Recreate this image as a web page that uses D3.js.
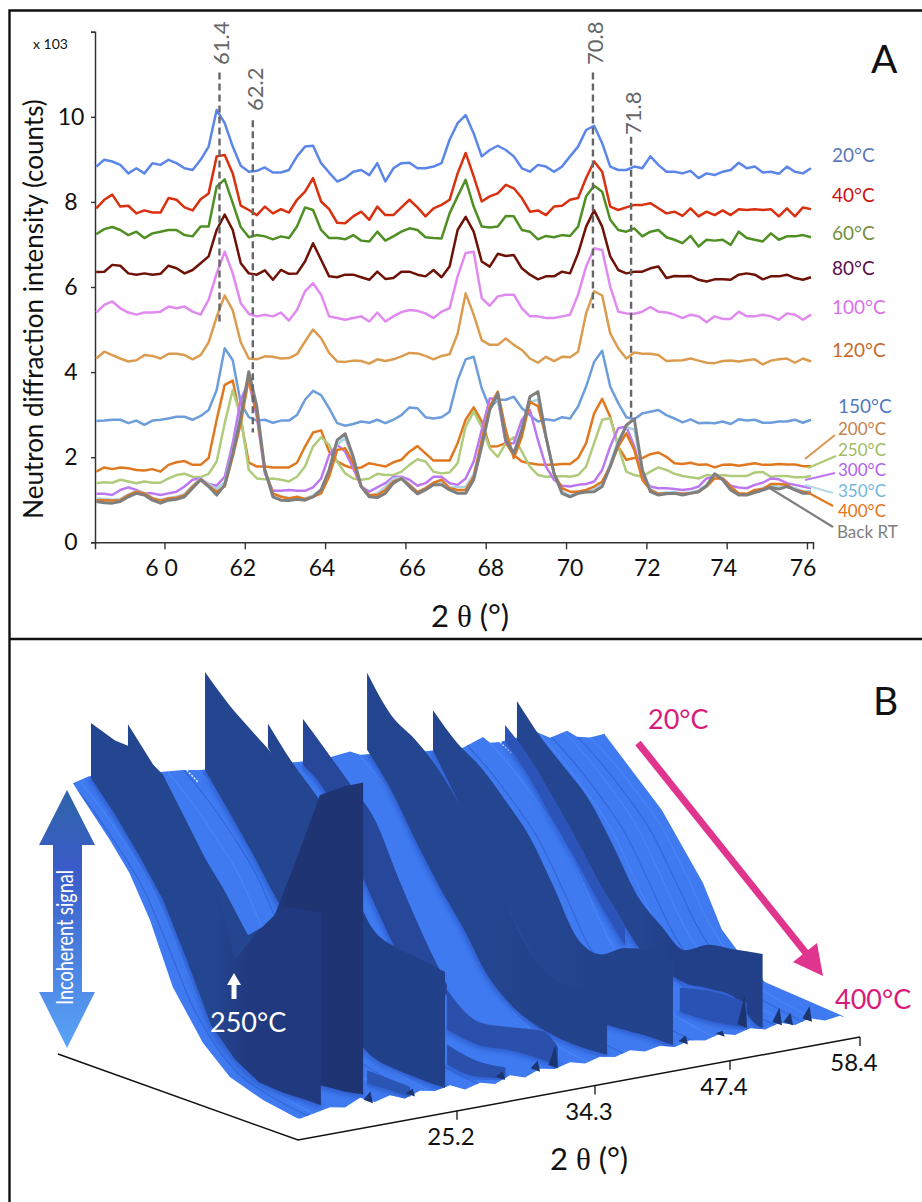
<!DOCTYPE html>
<html>
<head>
<meta charset="utf-8">
<script src="https://cdn.jsdelivr.net/npm/d3@7"></script>
<style>
body { margin: 0; background: #fff; }
svg { display: block; }
text { font-family: Lato, "Open Sans", sans-serif; }
</style>
</head>
<body>
<script>
// panel A: 90 scans on a 0.2 degree grid
const thetaGrid = d3.range(90).map(function(i) { return 58.3 + i * 0.2; });
const xTicks = [60, 62, 64, 66, 68, 70, 72, 74, 76];
const xTickLabels = ['6 0', '62', '64', '66', '68', '70', '72', '74', '76'];
const xTickNudge = [-3, -2, -3, 7, 5, 4, 1, -3, -4];
const yTicks = [0, 2, 4, 6, 8, 10, 12];

const scan20 = [8.83,8.99,8.95,8.87,8.67,8.79,8.67,8.91,8.87,8.99, 8.91,8.79,8.75,8.99,9.3,10.16,9.85,9.3,8.85,8.71, 8.73,8.81,8.69,8.69,8.75,9.07,9.3,9.32,8.91,8.69, 8.48,8.56,8.71,8.75,8.63,8.91,8.48,8.79,8.91,8.92, 8.79,8.79,8.83,8.91,9.46,9.85, 10.04,9.61,9.07,9.22,9.32,9.22,9.07,8.79,8.71,8.87, 8.83,8.71,8.83,9.07,9.3,9.69,9.79,9.38,8.83,8.75, 8.75,8.83,8.79,9.07,8.87,8.71,8.71,8.67,8.73,8.56, 8.67,8.63,8.71,8.75,8.92,8.79,8.83,8.69,8.71,8.66, 8.83,8.71,8.67,8.79];
const scan40 = [7.85,8.05,8.17,7.89,7.91,7.73,7.8,7.75,7.75,8.09, 8.05,7.87,7.8,8.06,8.2,9.07,9.1,8.67,7.91,7.81, 7.69,7.89,7.73,7.83,7.75,8.05,8.24,8.56,8.01,7.83, 7.51,7.5,7.66,7.77,7.58,7.89,7.69,7.69,7.87,8.05, 7.87,7.66,7.85,7.93,8.05,8.67, 9.15,8.6,8.01,8.13,8.2,8.4,8.32,8.09,7.77,7.8, 7.69,7.89,7.91,8.05,8.09,8.56,8.95,8.71,7.89,7.81, 7.87,7.93,7.93,7.97,7.85,7.73,7.77,7.67,7.85,7.66, 7.77,7.69,7.8,7.69,7.83,7.81,7.83,7.81,7.83,7.66, 7.85,7.66,7.87,7.83];
const scan60 = [7.24,7.36,7.41,7.34,7.22,7.3,7.15,7.26,7.3,7.34, 7.34,7.22,7.19,7.42,7.42,8.36,8.53,7.97,7.41,7.17, 7.22,7.19,7.12,7.19,7.15,7.42,7.87,7.81,7.34,7.15, 7.15,7.12,7.22,7.09,7.07,7.3,7.09,7.19,7.3,7.38, 7.34,7.17,7.15,7.14,7.73,8.13, 8.52,7.89,7.42,7.4,7.42,7.67,7.66,7.34,7.3,7.12, 7.2,7.17,7.22,7.2,7.42,8.13,8.38,8.24,7.58,7.34, 7.3,7.38,7.19,7.3,7.34,7.17,7.11,7.03,7.2,6.95, 7.11,7.09,7.11,6.99,7.3,7.15,7.11,7.07,7.26,7.11, 7.19,7.19,7.22,7.17];
const scan80 = [6.35,6.36,6.52,6.5,6.32,6.29,6.32,6.29,6.31,6.5, 6.44,6.32,6.4,6.56,6.72,7.34,7.7,7.34,6.56,6.32, 6.29,6.39,6.17,6.4,6.31,6.32,6.6,7.03,6.64,6.25, 6.23,6.29,6.29,6.23,6.17,6.36,6.19,6.21,6.36,6.36, 6.29,6.25,6.4,6.23,6.48,7.34, 7.65,7.3,6.6,6.48,6.78,6.73,6.75,6.44,6.29,6.18, 6.25,6.25,6.36,6.32,6.79,7.42,7.8,7.42,6.72,6.4, 6.32,6.36,6.36,6.44,6.48,6.21,6.26,6.25,6.26,6.17, 6.13,6.18,6.18,6.17,6.29,6.32,6.29,6.18,6.25,6.25, 6.29,6.21,6.17,6.23];
const scan100 = [5.4,5.58,5.66,5.5,5.4,5.35,5.4,5.4,5.42,5.54, 5.5,5.54,5.42,5.35,5.7,6.32,6.83,6.32,5.62,5.37, 5.31,5.35,5.31,5.4,5.21,5.46,5.9,6.09,5.82,5.31, 5.27,5.23,5.27,5.31,5.19,5.4,5.19,5.31,5.41,5.46, 5.44,5.38,5.27,5.42,5.5,6.25, 6.8,6.83,5.74,5.56,5.78,5.82,5.82,5.5,5.31,5.31, 5.27,5.27,5.31,5.35,5.82,6.48,6.91,6.87,6.01,5.42, 5.38,5.37,5.42,5.53,5.42,5.4,5.35,5.27,5.35,5.31, 5.17,5.31,5.25,5.25,5.42,5.31,5.31,5.35,5.31,5.23, 5.38,5.35,5.23,5.35];
const scan120 = [4.32,4.48,4.4,4.32,4.25,4.28,4.4,4.38,4.32,4.43, 4.43,4.4,4.3,4.4,4.7,5.3,5.8,5.45,4.7,4.32, 4.3,4.37,4.36,4.32,4.33,4.42,4.72,5.0,4.8,4.45, 4.25,4.24,4.27,4.26,4.2,4.3,4.26,4.3,4.37,4.45, 4.44,4.38,4.3,4.38,4.42,4.9, 5.85,5.35,4.75,4.64,4.64,4.79,4.64,4.52,4.32,4.22, 4.36,4.26,4.36,4.35,4.48,5.38,5.9,5.8,4.91,4.56, 4.32,4.46,4.43,4.43,4.4,4.26,4.27,4.28,4.32,4.27, 4.22,4.21,4.26,4.27,4.25,4.28,4.3,4.18,4.27,4.3, 4.32,4.22,4.32,4.25];
const scan150 = [2.85,2.86,2.88,2.88,2.8,2.86,2.76,2.86,2.88,2.91, 2.95,2.95,2.88,2.97,3.11,3.58,4.56,4.28,3.27,2.94, 2.86,2.88,2.81,2.86,2.86,2.99,3.35,3.56,3.46,3.15, 2.8,2.74,2.78,2.84,2.81,2.88,2.8,2.88,2.99,3.17, 3.15,2.94,2.91,2.94,3.07,3.81, 4.3,4.36,3.62,3.15,3.35,3.35,3.42,3.15,2.99,2.84, 2.89,2.86,2.94,2.91,3.19,3.66,4.24,4.5,3.66,3.27, 2.94,2.89,3.03,3.07,3.11,2.99,2.91,2.82,2.89,2.8, 2.81,2.8,2.84,2.78,2.89,2.86,2.88,2.81,2.81,2.84, 2.84,2.88,2.81,2.88];
const scan200 = [1.66,1.76,1.72,1.76,1.74,1.7,1.69,1.72,1.66,1.82, 1.88,1.91,1.82,1.82,1.98,2.88,3.7,3.8,2.88,1.87, 1.78,1.78,1.76,1.76,1.76,1.87,2.25,2.58,2.63,2.13, 1.9,1.8,1.74,1.76,1.86,1.82,1.78,1.88,1.94,2.13, 2.26,2.09,1.92,1.92,1.92,2.33, 2.88,3.17,2.84,2.25,2.26,2.33,2.05,1.9,1.86,1.83, 1.82,1.82,1.84,1.84,1.98,2.33,3.03,3.37,2.95,2.25, 1.94,1.98,1.98,2.07,2.11,2.01,1.86,1.84,1.87,1.82, 1.83,1.76,1.82,1.83,1.8,1.83,1.86,1.82,1.82,1.84, 1.83,1.83,1.79,1.79];
const scan250 = [1.39,1.41,1.4,1.47,1.43,1.39,1.43,1.4,1.4,1.5, 1.58,1.61,1.54,1.53,1.61,1.9,2.8,3.58,2.95,1.7, 1.5,1.48,1.5,1.47,1.43,1.54,1.78,2.25,2.47,2.29, 1.9,1.62,1.5,1.47,1.5,1.61,1.58,1.58,1.66,1.82, 1.95,1.9,1.66,1.62,1.64,1.86, 2.72,3.07,2.72,2.21,2.01,2.33,2.47,2.13,1.78,1.58, 1.54,1.54,1.56,1.54,1.58,1.78,2.33,2.88,2.92,2.25, 1.66,1.58,1.54,1.66,1.76,1.7,1.61,1.56,1.53,1.5, 1.58,1.56,1.58,1.56,1.56,1.56,1.64,1.65,1.54,1.56, 1.56,1.53,1.53,1.56];
const scan300 = [1.14,1.14,1.11,1.23,1.29,1.23,1.15,1.15,1.11,1.15, 1.19,1.31,1.47,1.5,1.37,1.33,1.54,2.33,3.35,3.78, 2.95,1.62,1.21,1.21,1.23,1.21,1.21,1.29,1.5,2.05, 2.29,2.13,1.74,1.31,1.19,1.29,1.39,1.54,1.54,1.47, 1.33,1.39,1.54,1.54,1.39,1.35, 1.5,1.9,2.64,3.38,3.38,2.33,2.33,2.88,3.11,2.4, 1.78,1.47,1.33,1.31,1.35,1.37,1.43,1.7,2.25,2.68, 2.72,2.25,1.54,1.31,1.27,1.27,1.25,1.23,1.25,1.31, 1.5,1.54,1.5,1.33,1.29,1.27,1.35,1.4,1.5,1.48, 1.39,1.35,1.31,1.27];
const scan350 = [1.03,1.02,1.0,1.02,1.12,1.2,1.16,1.05,1.0,1.04, 1.07,1.13,1.33,1.5,1.36,1.25,1.42,2.15,3.0,3.9, 3.1,1.7,1.13,1.08,1.04,1.05,1.03,1.1,1.25,1.7, 2.3,2.45,1.95,1.3,1.1,1.15,1.3,1.5,1.52,1.37, 1.18,1.28,1.4,1.42,1.28,1.3, 1.3,1.6,2.35,3.2,3.4,2.45,2.1,2.7,3.3,3.35, 2.45,1.62,1.2,1.1,1.2,1.22,1.25,1.38,1.85,2.4, 2.7,2.65,1.7,1.25,1.15,1.17,1.18,1.15,1.17,1.22, 1.35,1.55,1.48,1.28,1.14,1.13,1.2,1.28,1.33,1.3, 1.33,1.27,1.2,1.2];
const scan400 = [0.99,0.99,0.98,0.99,1.11,1.19,1.15,1.03,0.98,1.03, 1.05,1.11,1.31,1.48,1.33,1.19,1.31,2.01,2.8,3.85, 3.03,1.7,1.15,1.07,1.03,1.07,1.02,1.07,1.15,1.54, 2.17,2.21,1.86,1.31,1.11,1.11,1.23,1.43,1.5,1.35, 1.18,1.27,1.4,1.47,1.27,1.23, 1.23,1.54,2.4,3.19,3.54,2.64,1.98,2.48,3.3,3.2, 2.48,1.62,1.27,1.19,1.19,1.23,1.31,1.43,1.78,2.25, 2.56,2.17,1.47,1.23,1.14,1.15,1.15,1.14,1.15,1.18, 1.31,1.5,1.5,1.31,1.15,1.14,1.23,1.25,1.37,1.37, 1.35,1.23,1.19,1.15];
const scanBack = [0.96,0.93,0.92,0.96,1.07,1.15,1.11,0.99,0.92,0.99, 1.01,1.07,1.27,1.47,1.31,1.11,1.35,2.09,2.95,4.01, 3.19,1.7,1.07,0.99,0.98,1.01,0.99,1.07,1.23,1.7, 2.4,2.55,2.01,1.31,1.07,1.05,1.15,1.39,1.5,1.31, 1.14,1.23,1.35,1.35,1.23,1.15, 1.15,1.47,2.25,3.11,3.5,2.4,2.09,2.64,3.42,3.54, 2.48,1.62,1.15,1.07,1.15,1.18,1.19,1.31,1.78,2.33, 2.75,2.9,1.7,1.19,1.11,1.14,1.15,1.11,1.15,1.19, 1.33,1.61,1.47,1.23,1.11,1.11,1.17,1.23,1.29,1.25, 1.31,1.23,1.15,1.15];

const seriesNames = ['20°C', '40°C', '60°C', '80°C', '100°C', '120°C', '150°C', '200°C', '250°C', '300°C', '350°C', '400°C', 'Back RT'];
const seriesValues = [scan20, scan40, scan60, scan80, scan100, scan120, scan150, scan200, scan250, scan300, scan350, scan400, scanBack];
const seriesColors = ['#5b86e8', '#d9300f', '#4f8f23', '#6e1208', '#e08af0', '#db9c50', '#6d9ddb', '#e07820', '#b0cb7c', '#bd78f0', '#a8d2e5', '#e07820', '#7f7f7f'];
const labelColors = ['#5b78b8', '#d01010', '#758f3c', '#5a0f4a', '#da70e8', '#c56a2a', '#4f79c4', '#c4814a', '#a0bb60', '#b060f0', '#6fb6dc', '#e8711a', '#7f7f7f'];
const labelX = [832, 832, 832, 832, 832, 832, 838, 838, 838, 838, 838, 838, 837];
const labelY = [162, 202, 240, 275, 314, 357, 413, 435, 455.5, 476, 496.5, 517, 537.5];
const labelSize = [19, 19, 19, 19, 19, 19, 19, 17, 17, 17, 17, 17, 17];
// leader ticks from the crowded labels back to their line ends
const leaders = [
	{ c: '#d99a55', p: [[805, 459], [835, 435]] },
	{ c: '#aecb72', p: [[808, 468], [836, 456]] },
	{ c: '#bd78f0', p: [[805, 480], [835, 473]] },
	{ c: '#b5d9e8', p: [[805, 485], [833, 493]] },
	{ c: '#e07820', p: [[807, 492], [833, 506]] },
	{ c: '#7f7f7f', p: [[768, 487], [833, 527]] }
];

const peakThetas = [61.37, 62.2, 70.67, 71.62];
const peakLabels = ['61.4', '62.2', '70.8', '71.8'];
const peakTops = [11.04, 9.92, 11.04, 9.53];
const peakBottoms = [5.1, 2.58, 5.5, 2.94];
const peakLabelAnchor = [[229, 65], [263, 111], [603, 65], [641, 135]];

// panel B: a waterfall of the low angle range, heights in arbitrary signal units
const sweepTemps = [20, 58, 96, 134, 172, 210, 248, 286, 324, 362, 400];
const axisThetas = [25.2, 34.3, 47.4, 58.4];
const rearThetas = [15.69,16.75,21.64,22.96,24.08,30.68,32.65,33.97,34.79,40.61,44.78,46.72,47.4,48.25,51.38,52.48,53.92,54.77,55.86,57.13];
const rearSignal = [268,272,263,261,258,248,247,249,244,236,232,239,232,231,234,226,230,222,219,220];
const fallTemps = [20, 40.5, 99, 130, 162.5, 198.6, 246.5, 289, 341.5, 400];
const fallShare = [1, .965, .812, .72, .58, .375, .218, .132, .093, .075];
const leftTemps = [40.5, 99, 130, 162.5, 198.6, 246.5, 289, 341.5, 395];
const leftSignal = [275, 231.5, 205.6, 166, 107, 62, 37.5, 26.4, 20.5];
const rightTemps = [20, 110, 175, 205, 229, 273, 395, 400];
const rightSignal = [219, 164, 106, 66, 51, 29, 23, 22];
const frontSignal = [21,24,27,24,31,24,28,22,27,24,27,20,24,20,26,21,27,24,28,24,28,25,29,25,28,24,28,25,29,25,29,25,29,24,28,23,25];

// ridges back to front, right to left
const ridgeThetas = [49.68, 48.84, 48.67, 41.87, 35.47, 31.86, 30.87, 28.7, 28.56, 24.41, 22.43, 19.32, 16.88];
const ridgeTemps = [
	[20,58,96,134,172,210,248,286,324,362,400,409],
	[293.6,336.5,400],
	[20,58,96,134,172,210],
	sweepTemps,
	sweepTemps,
	[224,276.5,324,376,400],
	[20,58,96,134,172,210,248],
	[300.2,346,392.4],
	[20,58,96,134],
	sweepTemps,
	[324,392.4],
	[20,58,96,134,172,210,248,286,324,362,392.4],
	[20,58,96,134,172,210,248,286,324,362,384]
];
const ridgeTops = [
	[269,241,219,196,159,118,96,80,94,98,103,104],
	[46,53,55],
	[247,224,192,158,121,90],
	[275,251,235,211,184,143,99,91,106,113,111],
	[324.5,291,275,253,220,177.5,134,98,84,85,88.5],
	[63,42,48,56,45],
	[290,266,241,215,164,117,76],
	[34,28.5,32],
	[292,262,238,211],
	[355,331,312,293,267,240,199,158,148,145,141],
	[31,30],
	[317,287,248,217,186,149,171,241,315,332,343],
	[325,316,315,299,260,221,140,178,210,215,217]
];
const ridgeFeet = [
	[230,194,160,128,99,68,54,47,50,51,31,30],
	[22,23,30],
	[231,204,169,136,101,70],
	[235,194,148,108,70,38,27,23,24,26,26],
	[247.5,216,175,137,104,65.5,44,33,28,27,28.5],
	[23,19,25,27,27],
	[244,223,176,130,89,67,66],
	[14,12.5,21],
	[268,234,203,171],
	[257,224,190,153,122,80,49,30,26,25,25],
	[18,20],
	[264,240,198,167,126,84,53,31,25,27,31],
	[270,242,210,174,122,66,40,26,24,25,25]
];
const ridgeBack = ['#24458f','#2a52b4','#2b53b8','#24458f','#24458f','#2a50ac','#26479a','#2a50ac','#24458f','#24458f','#2b55b5','#24458f','#24458f'];
const ridgeFront = ['#22408a','#2a52b4','#2b53b8','#23428c','#23428c','#2a50ac','#26479a','#2a50ac','#24458f','#21408a','#2b55b5','#1f3573','#21397f'];
// the two front ridges break sharply at the transition, so no smoothing there
const ridgeCurves = [d3.curveMonotoneX, d3.curveMonotoneX, d3.curveMonotoneX, d3.curveMonotoneX, d3.curveMonotoneX, d3.curveMonotoneX, d3.curveMonotoneX, d3.curveMonotoneX, d3.curveMonotoneX, d3.curveMonotoneX, d3.curveMonotoneX, d3.curveLinear, d3.curveLinear];

const spikeThetas = [19.65, 22.43, 28.37, 30.68, 31.86, 43.33, 46.9, 48.84, 51.8, 52.73, 54.34];
const spikeTops = [34, 29, 30, 34, 47, 32, 30, 61, 43, 36, 39];
const spikeFeet = [23, 22, 22, 24, 24, 24, 25, 30, 26, 24, 24];

// pale and shaded stripes running along the temperature direction
const streakThetas = [15.6,16.1,21.9,23,24,25.2,27,34.6,36.6,38.4,43.7,45.2,47.3,50.4,51.5,52.6,53.7,54.8,55.9];
const streakColors = ['#3267d8','#4a86f8','#4a86f8','#3267d8','#4a86f8','#4a86f8','#3267d8','#4a86f8','#4a86f8','#3267d8','#4a86f8','#3267d8','#4a86f8','#3267d8','#4a86f8','#3267d8','#4a86f8','#3267d8','#4a86f8'];
const glintThetas = [23.2, 48.25];

const width = 922, height = 1202;
const svg = d3.select('body').append('svg').attr('width', width).attr('height', height);

// frame
svg.append('path')
	.attr('d', 'M922,10.5H9.5V1202M9.5,639H922')
	.attr('fill', 'none').attr('stroke', '#111').attr('stroke-width', 2.4);

// panel A
const x = d3.scaleLinear().domain([58.27, 76.15]).range([95, 813]);
const y = d3.scaleLinear().domain([0, 12]).range([542.3, 31.7]);
const scanLine = d3.line()
	.x(function(d, i) { return x(thetaGrid[i]); })
	.y(function(d) { return y(d); });

const xAxis = svg.append('g')
	.attr('transform', 'translate(0,' + y(0) + ')')
	.call(d3.axisBottom(x).tickValues(xTicks).tickSize(7).tickFormat(''));
const yAxis = svg.append('g')
	.attr('transform', 'translate(' + x.range()[0] + ',0)')
	.call(d3.axisLeft(y).tickValues(yTicks).tickSize(4).tickFormat(''));
[xAxis, yAxis].forEach(function(g) {
	g.selectAll('path').attr('stroke', '#333').attr('stroke-width', 1.5);
	g.selectAll('line').attr('stroke', '#333').attr('stroke-width', 1.4);
});

svg.selectAll('.xlab').data(xTicks).enter().append('text')
	.attr('x', function(d, i) { return x(d) + xTickNudge[i]; })
	.attr('y', 576)
	.attr('text-anchor', 'middle').attr('font-size', 23).attr('fill', '#111')
	.text(function(d, i) { return xTickLabels[i]; });
svg.selectAll('.ylab').data(yTicks.slice(0, 6)).enter().append('text')
	.attr('x', 71)
	.attr('y', function(d) { return y(d) + 8; })
	.attr('text-anchor', 'middle').attr('font-size', 23).attr('fill', '#111')
	.text(function(d) { return d; });
svg.append('text').attr('x', 33).attr('y', 49).attr('font-size', 14).attr('fill', '#111').text('x 103');
svg.append('text')
	.attr('transform', 'translate(43,309) rotate(-90)')
	.attr('text-anchor', 'middle').attr('font-size', 26).attr('fill', '#111')
	.text('Neutron diffraction intensity (counts)');

function thetaTitle(px, py) {
	const t = svg.append('text').attr('x', px).attr('y', py).attr('font-size', 31).attr('fill', '#111');
	t.append('tspan').text('2 ');
	t.append('tspan').attr('font-family', '"Liberation Serif"').text('θ');
	t.append('tspan').text(' (°)');
}
thetaTitle(431, 627);

svg.selectAll('.scan').data(seriesValues).enter().append('path')
	.attr('d', scanLine)
	.attr('fill', 'none')
	.attr('stroke', function(d, i) { return seriesColors[i]; })
	.attr('stroke-width', function(d, i) { return i === 12 ? 3 : 2.5; })
	.attr('stroke-linejoin', 'round');

svg.selectAll('.peak').data(peakThetas).enter().append('line')
	.attr('x1', function(d) { return x(d); })
	.attr('x2', function(d) { return x(d); })
	.attr('y1', function(d, i) { return y(peakTops[i]); })
	.attr('y2', function(d, i) { return y(peakBottoms[i]); })
	.attr('stroke', '#666').attr('stroke-width', 2.4).attr('stroke-dasharray', '7,4');
svg.selectAll('.peaklab').data(peakLabels).enter().append('text')
	.attr('transform', function(d, i) { return 'translate(' + peakLabelAnchor[i] + ') rotate(-90)'; })
	.attr('font-size', 22).attr('fill', '#666')
	.text(function(d) { return d; });

svg.selectAll('.leader').data(leaders).enter().append('path')
	.attr('d', function(d) { return d3.line()(d.p); })
	.attr('fill', 'none').attr('stroke-width', 2.2)
	.attr('stroke', function(d) { return d.c; });
svg.selectAll('.slab').data(seriesNames).enter().append('text')
	.attr('x', function(d, i) { return labelX[i]; })
	.attr('y', function(d, i) { return labelY[i]; })
	.attr('font-size', function(d, i) { return labelSize[i]; })
	.attr('fill', function(d, i) { return labelColors[i]; })
	.text(function(d) { return d; });
svg.append('text').attr('x', 871).attr('y', 73).attr('font-size', 39).attr('fill', '#111').text('A');
svg.append('text').attr('x', 873).attr('y', 715).attr('font-size', 39).attr('fill', '#111').text('B');

// panel B
const thetaB = d3.scaleLinear().domain([14.7, 25.2, 34.3, 47.4, 58.4]).range([298, 457, 595, 730, 860]);
const groundY = d3.scaleLinear().domain([298, 860]).range([1140, 1037]);
const depthX = d3.scaleLinear().domain([20, 400]).range([-240, 0]);
const depthY = d3.scaleLinear().domain([20, 400]).range([-86, 0]);
const rearLevel = d3.scaleLinear().domain(rearThetas).range(rearSignal);
const fall = d3.scaleLinear().domain(fallTemps).range(fallShare);
const floorSignal = function(th, temp) { return rearLevel(th) * fall(temp); };

const project = function(th, temp, z) {
	const px = thetaB(th);
	return [px + depthX(temp), groundY(px) + depthY(temp) - z];
};
const outline = d3.line();
const defs = svg.append('defs');
defs.append('filter').attr('id', 'soft').append('feGaussianBlur').attr('stdDeviation', 2);

// floor of the surface
const frontThetas = frontSignal.map(function(d, i) { return thetaB.invert(300 + i * 15); });
let floorPts = [];
rearThetas.slice(1).forEach(function(th, i) { floorPts.push(project(th, 20, rearSignal[i + 1])); });
rightTemps.forEach(function(temp, i) { floorPts.push(project(57.13, temp, rightSignal[i])); });
frontThetas.slice().reverse().forEach(function(th, i) {
	floorPts.push(project(th, 400, frontSignal[frontSignal.length - 1 - i]));
});
leftTemps.slice().reverse().forEach(function(temp, i) {
	floorPts.push(project(14.83, temp, leftSignal[leftSignal.length - 1 - i]));
});
svg.append('clipPath').attr('id', 'floorClip').append('path').attr('d', outline(floorPts) + 'Z');
svg.append('path').attr('d', outline(floorPts) + 'Z').attr('fill', '#3f7af0');

const streaks = svg.append('g').attr('clip-path', 'url(#floorClip)');
streaks.selectAll('path').data(streakThetas).enter().append('path')
	.attr('d', function(th) {
		return d3.line().curve(d3.curveMonotoneX)(sweepTemps.map(function(temp) { return project(th, temp, floorSignal(th, temp)); }));
	})
	.attr('fill', 'none')
	.attr('stroke', function(d, i) { return streakColors[i]; })
	.attr('stroke-width', 1.2);
svg.selectAll('.glint').data(glintThetas).enter().append('path')
	.attr('d', function(th) {
		return outline([20, 38].map(function(temp) { return project(th, temp, floorSignal(th, temp)); }));
	})
	.attr('stroke', '#fff').attr('stroke-width', 1.3).attr('stroke-dasharray', '2,1.5');

// ridges are painted far side first so nearer ones cover them
ridgeThetas.forEach(function(th, i) {
	const rows = ridgeTemps[i].map(function(temp, j) {
		const top = project(th, temp, ridgeTops[i][j]);
		const foot = project(th, temp, ridgeFeet[i][j]);
		return { x: top[0], top: top[1], foot: foot[1] };
	});
	const grad = defs.append('linearGradient').attr('id', 'ridge' + i)
		.attr('gradientUnits', 'userSpaceOnUse')
		.attr('x1', project(th, 20, 0)[0]).attr('x2', project(th, 400, 0)[0])
		.attr('y1', 0).attr('y2', 0);
	grad.append('stop').attr('offset', '52%').attr('stop-color', ridgeBack[i]);
	grad.append('stop').attr('offset', '66%').attr('stop-color', ridgeFront[i]);
	// soft shaded shoulder at the foot of the ridge
	svg.append('path')
		.attr('d', d3.line().curve(d3.curveMonotoneX).x(function(d) { return d.x; }).y(function(d) { return d.foot; })(rows))
		.attr('fill', 'none').attr('stroke', '#2b58c8').attr('stroke-width', 6).attr('opacity', 0.8)
		.attr('filter', 'url(#soft)').attr('clip-path', 'url(#floorClip)');
	svg.append('path')
		.attr('d', d3.area().curve(ridgeCurves[i]).x(function(d) { return d.x; }).y0(function(d) { return d.foot; }).y1(function(d) { return d.top; })(rows))
		.attr('fill', 'url(#ridge' + i + ')');
});

// small dark peaks along the front edge
svg.selectAll('.spike').data(spikeThetas).enter().append('path')
	.attr('d', function(th, i) {
		return outline([
			project(th, 385, spikeFeet[i]),
			project(th, 396, spikeTops[i]),
			project(th, 400, spikeFeet[i])
		]) + 'Z';
	})
	.attr('fill', '#1c3470');

// axes of the 3D box
const axisEnd = project(14.7, 20, 0);
const corner = project(14.7, 400, 0);
const axisStop = project(58.4, 400, 0);
svg.append('path').attr('d', outline([axisEnd, corner, axisStop]))
	.attr('fill', 'none').attr('stroke', '#111').attr('stroke-width', 1.5);
svg.selectAll('.btick').data(axisThetas).enter().append('line')
	.attr('x1', function(d) { return thetaB(d); })
	.attr('x2', function(d) { return thetaB(d); })
	.attr('y1', function(d) { return groundY(thetaB(d)); })
	.attr('y2', function(d) { return groundY(thetaB(d)) + 9; })
	.attr('stroke', '#111').attr('stroke-width', 1.3);
svg.selectAll('.blab').data(axisThetas).enter().append('text')
	.attr('x', function(d) { return thetaB(d) - 6; })
	.attr('y', function(d) { return groundY(thetaB(d)) + 34; })
	.attr('text-anchor', 'middle').attr('font-size', 24).attr('fill', '#111')
	.text(function(d) { return d.toFixed(1); });
thetaTitle(550, 1170);

// incoherent signal arrow
const arrowGrad = defs.append('linearGradient').attr('id', 'arrowGrad').attr('x1', 0).attr('x2', 0).attr('y1', 0).attr('y2', 1);
arrowGrad.append('stop').attr('offset', '0%').attr('stop-color', '#2f64a8');
arrowGrad.append('stop').attr('offset', '30%').attr('stop-color', '#3a5cc8');
arrowGrad.append('stop').attr('offset', '100%').attr('stop-color', '#5aa4f8');
svg.append('path')
	.attr('d', outline([[67, 790], [95, 845], [82, 845], [82, 992], [95, 992], [67, 1048], [39, 992], [53, 992], [53, 845], [39, 845]]) + 'Z')
	.attr('fill', 'url(#arrowGrad)');
svg.append('text')
	.attr('transform', 'translate(73,1005) rotate(-90)')
	.attr('font-family', '"Liberation Sans"').attr('font-size', 24).attr('fill', '#fff')
	.attr('textLength', 135).attr('lengthAdjust', 'spacingAndGlyphs')
	.text('Incoherent signal');

// transition marker
svg.append('path')
	.attr('d', outline([[234, 973], [241, 985], [236.5, 985], [236.5, 999], [231.5, 999], [231.5, 985], [227, 985]]) + 'Z')
	.attr('fill', '#fff');
svg.append('text').attr('x', 210).attr('y', 1032).attr('font-size', 27).attr('fill', '#fff').text('250°C');

// temperature direction
svg.append('path').attr('d', outline([[638, 743], [806, 953]]))
	.attr('stroke', '#e0358f').attr('stroke-width', 7).attr('fill', 'none');
svg.append('path').attr('d', outline([[793, 962], [817, 943], [823, 976]]) + 'Z').attr('fill', '#e0358f');
svg.append('text').attr('x', 648).attr('y', 729).attr('font-size', 27).attr('fill', '#d81b7a').text('20°C');
svg.append('text').attr('x', 835).attr('y', 1009).attr('font-size', 27).attr('fill', '#d81b7a').text('400°C');
</script>
</body>
</html>
